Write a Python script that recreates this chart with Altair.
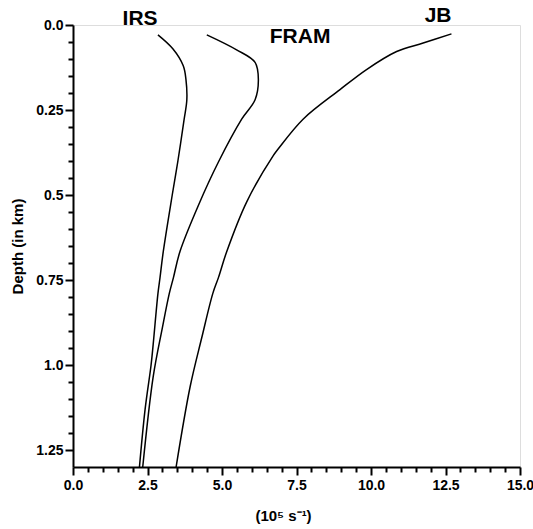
import altair as alt
import pandas as pd

irs_x = [2.85, 3.35, 3.70, 3.79, 3.82, 3.73, 3.52, 3.33, 3.03, 2.92, 2.85, 2.69, 2.62, 2.42, 2.23]
irs_d = [0.029, 0.07, 0.12, 0.16, 0.22, 0.277, 0.40, 0.50, 0.666, 0.743, 0.79, 0.94, 1.00, 1.13, 1.30]

fram_x = [4.49, 5.49, 6.11, 6.22, 6.11, 5.66, 4.88, 4.21, 3.59, 3.37, 3.23, 3.00, 2.69, 2.34]
fram_d = [0.029, 0.073, 0.11, 0.16, 0.22, 0.277, 0.403, 0.53, 0.666, 0.743, 0.79, 0.89, 1.035, 1.30]

jb_x = [12.7, 11.75, 10.86, 9.85, 8.96, 7.72, 6.89, 6.72, 5.83, 5.16, 4.88, 4.69, 4.32, 3.93, 3.46]
jb_d = [0.026, 0.053, 0.078, 0.131, 0.19, 0.277, 0.364, 0.384, 0.52, 0.666, 0.743, 0.79, 0.92, 1.064, 1.30]

label_names = ["IRS", "FRAM", "JB"]
label_x = [2.25, 7.62, 12.25]
label_d = [-0.018, 0.034, -0.026]

rows = []
for name, xs, ds in [("IRS", irs_x, irs_d), ("FRAM", fram_x, fram_d), ("JB", jb_x, jb_d)]:
    for x, d in zip(xs, ds):
        rows.append({"site": name, "rate": x, "depth": d})
df = pd.DataFrame(rows)
labels = pd.DataFrame({"site": label_names, "rate": label_x, "depth": label_d})

x_vals = [i * 0.5 for i in range(31)]
y_vals = [round(i * 0.05, 2) for i in range(26)]

FONT = "Liberation Sans"

x_scale = alt.Scale(domain=[0, 15], nice=False, zero=False)
y_scale = alt.Scale(domain=[0, 1.3], reverse=True, nice=False, zero=False)

x_major = "abs(datum.value/2.5 - round(datum.value/2.5)) < 0.001"
y_major = "abs(datum.value*4 - round(datum.value*4)) < 0.001"

x_axis = alt.Axis(
    values=x_vals,
    labelExpr=f"{x_major} ? format(datum.value, '.1f') : ''",
    tickSize={"condition": {"test": x_major, "value": 8}, "value": 5},
    tickWidth=2, domainWidth=2, domainColor="black", tickColor="black",
    labelFont=FONT, labelFontSize=14, labelFontWeight="bold", labelColor="black",
    labelPadding=3, grid=False, labelOverlap=False, labelFlush=False,
    title="(10⁵ s⁻¹)", titleFont=FONT, titleFontSize=15, titleFontWeight="bold",
    titleColor="black", titleX=210, titlePadding=16,
)
y_axis = alt.Axis(
    values=y_vals,
    labelExpr=f"{y_major} ? (datum.value == round(datum.value) ? format(datum.value, '.1f') : format(datum.value, '~g')) : ''",
    tickSize={"condition": {"test": y_major, "value": 8}, "value": 5},
    tickWidth=2, domainWidth=2, domainColor="black", tickColor="black",
    labelFont=FONT, labelFontSize=14, labelFontWeight="bold", labelColor="black",
    labelPadding=2, grid=False, labelOverlap=False, labelFlush=False,
    title="Depth (in km)", titleFont=FONT, titleFontSize=15, titleFontWeight="bold",
    titleColor="black", titlePadding=10,
)

lines = alt.Chart(df).mark_line(
    color="black", strokeWidth=1.5, clip=True, interpolate="catmull-rom"
).encode(
    x=alt.X("rate:Q", scale=x_scale, axis=x_axis),
    y=alt.Y("depth:Q", scale=y_scale, axis=y_axis),
    detail="site:N",
    order=alt.Order("depth:Q"),
)

text = alt.Chart(labels).mark_text(
    font=FONT, fontSize=21, fontWeight="bold", color="black", align="center", baseline="middle"
).encode(
    x=alt.X("rate:Q", scale=x_scale, axis=x_axis),
    y=alt.Y("depth:Q", scale=y_scale, axis=y_axis),
    text="site:N",
)

chart = alt.layer(lines, text).properties(
    width=447, height=442,
    autosize=alt.AutoSizeParams(type="none"),
    padding={"left": 73, "top": 25, "right": 13, "bottom": 62},
).configure_view(stroke=None).configure(background="white")

chart.save("out.html", embed_options={"renderer": "svg", "actions": False})
